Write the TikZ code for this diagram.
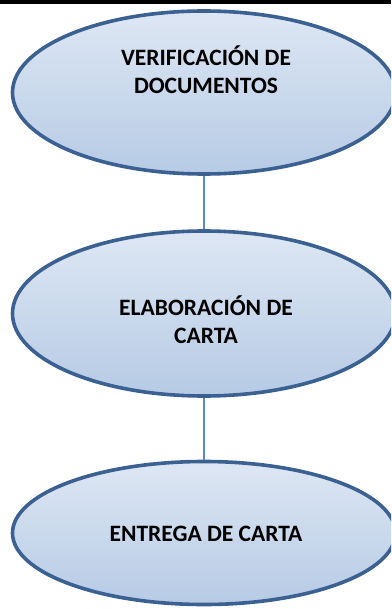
\documentclass[tikz,border=0pt]{standalone}
\usepackage{fontspec}
\setmainfont{Carlito}
\usetikzlibrary{shapes.geometric}
\definecolor{edgeblue}{HTML}{3B6092}
\definecolor{linkblue}{HTML}{5B8ACB}
\definecolor{topc}{HTML}{F1F5FB}
\definecolor{midc}{HTML}{A9C1E0}
\definecolor{botc}{HTML}{BCCFE8}
\pgfdeclareverticalshading{officefill}{100bp}{color(0bp)=(botc); color(8bp)=(midc); color(100bp)=(topc)}
\tikzset{
  stepoval/.style={ellipse, draw=edgeblue, line width=3.6pt, shading=officefill, minimum width=383pt, inner sep=0pt},
  steptext/.style={font=\fontsize{23.5}{28}\selectfont\bfseries, align=center, text=black, inner sep=0pt},
  link/.style={draw=linkblue, line width=1.6pt}
}
\begin{document}
\begin{tikzpicture}[x=1pt,y=-1pt]
\useasboundingbox (0,0) rectangle (391,609);
\clip (0,0) rectangle (391,609);
\fill[black] (0,0) rectangle (391,4);
\node[stepoval, minimum height=163pt] (e1) at (204,92.5) {};
\node[stepoval, minimum height=165pt] (e2) at (204,313.5) {};
\node[stepoval, minimum height=143pt] (e3) at (204,533) {};
\draw[link] (e1.south) -- (e2.north);
\draw[link] (e2.south) -- (e3.north);
\node[steptext, anchor=base] (t1) at (206,94) {VERIFICACIÓN DE\\DOCUMENTOS};
\node[steptext, anchor=base] (t2) at (206,343) {ELABORACIÓN DE\\CARTA};
\node[steptext, anchor=base] (t3) at (206,541) {ENTREGA DE CARTA};
\end{tikzpicture}
\end{document}
